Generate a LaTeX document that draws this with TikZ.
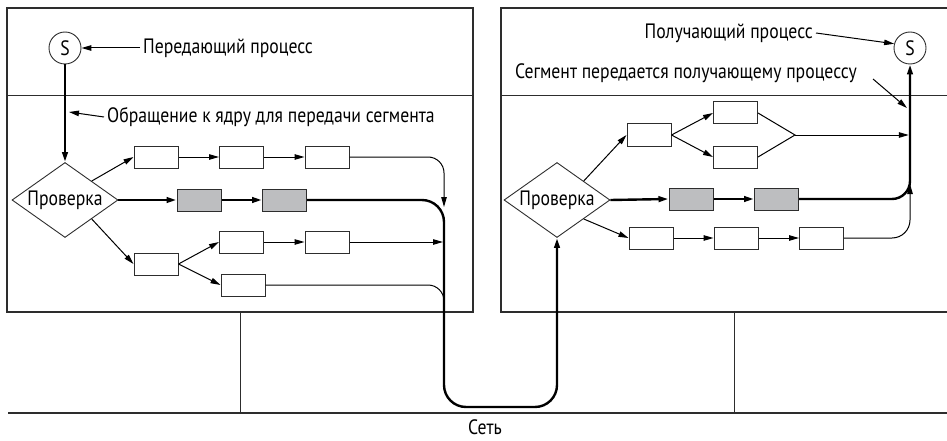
\documentclass[tikz,border=0pt]{standalone}
\usepackage{fontspec}
\setmainfont{PT Sans}[FakeStretch=0.85]
\usetikzlibrary{shapes.geometric,arrows.meta}
\definecolor{boxgray}{RGB}{189,190,192}
\definecolor{linegray}{RGB}{45,45,45}
\tikzset{
  blk/.style={draw=linegray,line width=1pt,minimum width=44pt,minimum height=22pt,inner sep=0pt},
  gblk/.style={blk,fill=boxgray},
  chk/.style={draw=linegray,diamond,line width=0.9pt,aspect=1.4,minimum width=106pt,minimum height=75pt,inner sep=0pt},
  proc/.style={draw=linegray,circle,line width=0.9pt,minimum size=32pt,inner sep=0pt},
  lbl/.style={inner sep=3pt},
  frm/.style={draw=linegray,line width=1.2pt},
  arr/.style={-{Triangle[length=10pt,width=5.5pt]},line width=1pt},
  tharr/.style={arr,line width=2.4pt}
}

\begin{document}
\begin{tikzpicture}[x=1pt,y=-1pt,font=\fontsize{20.8}{24}\selectfont]
\useasboundingbox (0,0) rectangle (947,441);
\draw [frm] (7,8) rectangle (473,312);
\draw [frm,line width=0.9pt] (7,95)--(473,95);
\draw [frm] (947,8)--(501,8)--(501,312)--(947,312);
\draw [frm,line width=0.9pt] (501,95)--(947,95);
\draw [frm,line width=0.9pt] (240,312)--(240,413);
\draw [frm,line width=0.9pt] (734,312)--(734,413);
\draw [frm] (8,413)--(947,413);
\node (net) at (485,427) {Сеть};

\node [proc] (sndS) at (65,48) {S};
\node [lbl,anchor=west] (sndL) at (140,48) {Передающий процесс};
\node [lbl,anchor=west] (callL) at (104,117) {Обращение к ядру для передачи сегмента};
\coordinate (callP) at (69,112);
\node [chk] (chkL) at (65,200) {Проверка};
\node [blk] (a1) at (156,157) {};
\node [blk] (a2) at (241.5,157) {};
\node [blk] (a3) at (327,157) {};
\node [gblk] (g1) at (199,200) {};
\node [gblk] (g2) at (284.5,200) {};
\node [blk] (b0) at (156,264) {};
\node [blk] (b1) at (241.5,242) {};
\node [blk] (b2) at (327,242) {};
\node [blk] (c1) at (243,285) {};

\node [proc] (rcvS) at (910,48) {S};
\node [lbl,anchor=east] (recvL) at (816,33) {Получающий процесс};
\node [lbl,anchor=east] (delivL) at (860,73) {Сегмент передается получающему процессу};
\coordinate (delivT) at (873,79);
\coordinate (delivH) at (907,108);
\node [chk] (chkR) at (557,200) {Проверка};
\node [blk] (d1) at (649,135) {};
\node [blk] (d2) at (735.5,113) {};
\node [blk] (d3) at (735.5,157) {};
\coordinate (m) at (795,135);
\node [gblk] (h1) at (691,199) {};
\node [gblk] (h2) at (776.5,199) {};
\node [blk] (e1) at (651,238) {};
\node [blk] (e2) at (736,238) {};
\node [blk] (e3) at (821.5,238) {};

\draw [arr] (sndL)--(sndS);
\draw [arr] (callL.west)--(callP);
\draw [tharr] (sndS.south)--(chkL.north);
\draw [arr] (chkL.north east)--(a1.west);
\draw [arr] (a1)--(a2);
\draw [arr] (a2)--(a3);
\draw [tharr] (chkL.east)--(g1.west);
\draw [tharr] (g1)--(g2);
\draw [arr] (chkL.south east)--(b0.west);
\draw [arr] (b0.east)--(b1.west);
\draw [arr] (b0.east)--(c1.west);
\draw [arr] (b1)--(b2);
\draw [arr,rounded corners=16pt] (a3.east)--(444,157)--(444,207);
\draw [arr] (b2.east)--(443,242);
\draw [line width=1pt,rounded corners=16pt] (c1.east)--(444,285)--(444,312);
\draw [tharr,rounded corners=22pt] (g2.east)--(444,200)--(444,407)--(557,407)--(chkR.south);

\draw [arr] (recvL.east)--(rcvS.165);
\draw [arr] (delivT)--(delivH);
\draw [arr] (chkR.north east)--(d1.west);
\draw [arr] (d1.east)--(d2.west);
\draw [arr] (d1.east)--(d3.west);
\draw [line width=1pt] (d2.east)--(m)--(d3.east);
\draw [arr] (m)--(908.8,135);
\draw [tharr] (chkR.east)--(h1.west);
\draw [tharr] (h1)--(h2);
\draw [arr] (chkR.south east)--(e1.west);
\draw [arr] (e1)--(e2);
\draw [arr] (e2)--(e3);
\draw [arr,rounded corners=18pt] (e3.east)--(910,238)--(910,184);
\draw [tharr,rounded corners=18pt] (h2.east)--(910,199)--(rcvS.south);
\end{tikzpicture}
\end{document}
